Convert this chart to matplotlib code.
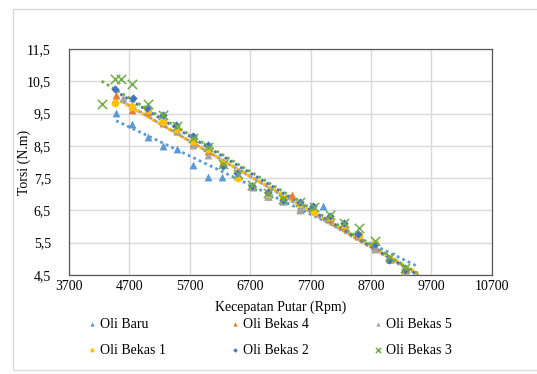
import matplotlib
matplotlib.use("Agg")
import matplotlib.pyplot as plt
import numpy as np
from matplotlib.patches import Rectangle

plt.rcParams["font.family"] = ["Liberation Serif", "DejaVu Serif"]

# data (rpm, N.m)
x_baru = [4480, 4740, 5000, 5260, 5490, 5750, 6000, 6240, 6490, 6740, 6990, 7250, 7520, 7910, 8020, 8250, 8500, 8760, 9010, 9260]
y_baru = [9.52, 9.18, 8.78, 8.50, 8.40, 7.92, 7.52, 7.52, 7.58, 7.22, 6.95, 6.80, 6.55, 6.64, 6.30, 6.05, 5.75, 5.40, 5.00, 4.68]

x_bekas4 = [4480, 4740, 5000, 5250, 5490, 5750, 6000, 6245, 6490, 6735, 6990, 7390, 7520, 7760, 8020, 8250, 8500, 8760, 9010, 9260]
y_bekas4 = [10.08, 9.62, 9.55, 9.20, 8.95, 8.60, 8.35, 8.00, 7.55, 7.25, 6.93, 6.98, 6.55, 6.50, 6.25, 6.00, 5.70, 5.35, 4.98, 4.65]

x_bekas5 = [4600, 4740, 5000, 5250, 5490, 5750, 6000, 6245, 6490, 6735, 6990, 7250, 7520, 7760, 8020, 8250, 8500, 8760, 9010, 9260]
y_bekas5 = [9.97, 9.75, 9.60, 9.25, 8.95, 8.53, 8.22, 7.95, 7.55, 7.25, 6.95, 6.80, 6.52, 6.55, 6.30, 6.05, 5.75, 5.30, 5.00, 4.62]

x_bekas1 = [4462, 4740, 5000, 5250, 5490, 5750, 6000, 6245, 6490, 6735, 6990, 7250, 7520, 7760, 8020, 8250, 8500, 8760, 9010, 9260]
y_bekas1 = [9.82, 9.71, 9.62, 9.25, 9.02, 8.65, 8.40, 7.95, 7.50, 7.25, 7.00, 6.85, 6.70, 6.46, 6.30, 6.05, 5.75, 5.50, 5.00, 4.65]

x_bekas2 = [4462, 4765, 4985, 5261, 5471, 5750, 6006, 6245, 6487, 6735, 7000, 7248, 7524, 7735, 8021, 8253, 8490, 8766, 9003, 9263]
y_bekas2 = [10.26, 9.97, 9.68, 9.46, 9.15, 8.80, 8.53, 7.88, 7.65, 7.24, 7.08, 6.83, 6.77, 6.64, 6.33, 6.10, 5.77, 5.45, 4.97, 4.66]

x_bekas3 = [4240, 4460, 4556, 4748, 5013, 5250, 5490, 5750, 6000, 6245, 6490, 6735, 6990, 7250, 7520, 7760, 8020, 8250, 8500, 8760, 9010, 9260]
y_bekas3 = [9.79, 10.57, 10.57, 10.41, 9.79, 9.45, 9.10, 8.75, 8.45, 7.95, 7.62, 7.28, 7.05, 6.85, 6.75, 6.60, 6.35, 6.10, 5.95, 5.55, 5.05, 4.70]

x_ticks = [3700, 4700, 5700, 6700, 7700, 8700, 9700, 10700]
y_ticks = [4.5, 5.5, 6.5, 7.5, 8.5, 9.5, 10.5, 11.5]

series = [
    ("Oli Baru", x_baru, y_baru, "#5B9BD5", "^", 2),
    ("Oli Bekas 4", x_bekas4, y_bekas4, "#ED7D31", "^", 1),
    ("Oli Bekas 5", x_bekas5, y_bekas5, "#A5A5A5", "^", 1),
    ("Oli Bekas 1", x_bekas1, y_bekas1, "#FFC000", "o", 1),
    ("Oli Bekas 2", x_bekas2, y_bekas2, "#4472C4", "D", 1),
    ("Oli Bekas 3", x_bekas3, y_bekas3, "#70AD47", "x", 1),
]

fig = plt.figure(figsize=(5.37, 3.74), dpi=100)
ax = fig.add_axes([0.1285, 0.265, 0.7875, 0.604])

# outer chart border
fig.patches.append(Rectangle((0.025, 0.012), 0.99, 0.965, transform=fig.transFigure,
                             fill=False, edgecolor="#D9D9D9", linewidth=1))

handles = {}
for name, xs, ys, color, marker, deg in series:
    xs = np.array(xs)
    ys = np.array(ys)
    coef = np.polyfit(xs, ys, deg)
    xf = np.linspace(xs.min(), 9480, 100)
    ax.plot(xf, np.polyval(coef, xf), linestyle=(0, (1, 1.2)), color=color,
            linewidth=2, zorder=2)
    if marker == "x":
        h = ax.scatter(xs, ys, marker="x", color=color, s=45, linewidths=1.1, zorder=3)
    else:
        sz = {"^": 32, "o": 30, "D": 18}[marker]
        h = ax.scatter(xs, ys, marker=marker, color=color, s=sz, linewidths=0, zorder=3)
    handles[name] = h

ax.set_xlim(3700, 10700)
ax.set_ylim(4.5, 11.5)
ax.set_xticks(x_ticks)
ax.set_yticks(y_ticks)
ax.set_xticklabels([str(v) for v in x_ticks], fontsize=10)
ax.set_yticklabels([("%.1f" % v).replace(".", ",") for v in y_ticks], fontsize=10)
ax.tick_params(axis="x", length=0, pad=4)
ax.tick_params(axis="y", length=0, pad=13)
ax.grid(True, color="#D9D9D9", linewidth=1)
ax.set_axisbelow(True)
for s in ax.spines.values():
    s.set_color("#595959")
    s.set_linewidth(0.9)

ax.set_xlabel("Kecepatan Putar (Rpm)", fontsize=10, labelpad=5)
ax.set_ylabel("Torsi (N.m)", fontsize=10)
ax.yaxis.set_label_coords(-0.09, 0.5)

order = ["Oli Baru", "Oli Bekas 1", "Oli Bekas 4", "Oli Bekas 2", "Oli Bekas 5", "Oli Bekas 3"]
fig.legend([handles[n] for n in order], order, ncol=3, loc="upper left",
           bbox_to_anchor=(0.135, 0.184), frameon=False, fontsize=10,
           columnspacing=4.45, handletextpad=0.1, handlelength=1.0,
           labelspacing=0.95, markerscale=0.55)

fig.savefig("out.png", dpi=100)
